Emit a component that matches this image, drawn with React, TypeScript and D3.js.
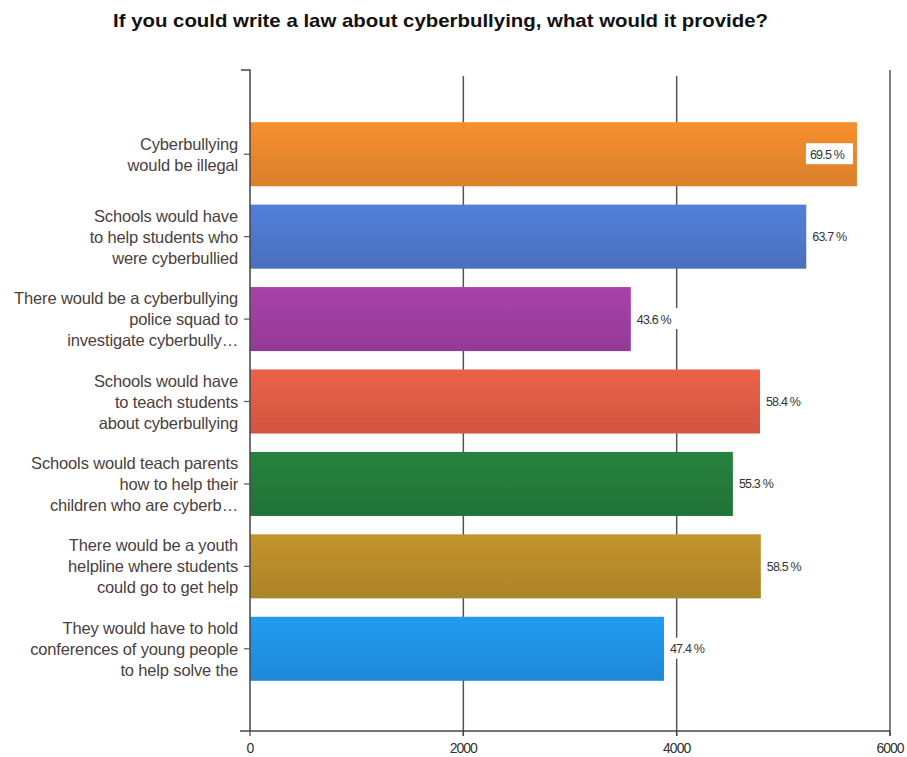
import React from "react";
import * as d3 from "d3";

const categories: string[][] = [
  ["Cyberbullying", "would be illegal"],
  ["Schools would have", "to help students who", "were cyberbullied"],
  ["There would be a cyberbullying", "police squad to", "investigate cyberbully…"],
  ["Schools would have", "to teach students", "about cyberbullying"],
  ["Schools would teach parents", "how to help their", "children who are cyberb…"],
  ["There would be a youth", "helpline where students", "could go to get  help"],
  ["They would have to hold", "conferences of young people", "to help solve the"],
];
const counts: number[] = [5690, 5215, 3570, 4781, 4527, 4789, 3881];
const percents: string[] = ["69.5 %", "63.7 %", "43.6 %", "58.4 %", "55.3 %", "58.5 %", "47.4 %"];
const colors: string[] = ["#e6862c", "#4d76c9", "#9c3d9e", "#dc5a44", "#23793a", "#b58a2a", "#1f91e2"];
const xTicks: number[] = [0, 2000, 4000, 6000];
const title = "If you could write a law about cyberbullying, what would it provide?";

export default function App() {
  const W = 907, H = 757;
  const x = d3.scaleLinear().domain([0, 6000]).range([250, 890]);
  const y = d3.scaleBand<number>().domain(d3.range(categories.length)).range([113, 690]).paddingInner(0.223).paddingOuter(0.1115);
  const top = 70, bottom = 731;
  const font = "'Liberation Sans', Arial, sans-serif";
  return (
    <svg width={W} height={H} style={{ position: "absolute", left: 0, top: 0, background: "#fff" }} fontFamily={font}>
      <defs>
        {colors.map((c, i) => (
          <linearGradient key={i} id={`g${i}`} x1="0" y1="0" x2="0" y2="1">
            <stop offset="0" stopColor={d3.color(c)!.brighter(0.2).toString()} />
            <stop offset="1" stopColor={d3.color(c)!.darker(0.15).toString()} />
          </linearGradient>
        ))}
      </defs>
      <text x={113} y={27} fontWeight="bold" fontSize={18.5} fill="#111" textLength={655} lengthAdjust="spacingAndGlyphs">{title}</text>
      {/* gridlines */}
      {xTicks.slice(1).map((t) => (
        <line key={t} x1={x(t)} x2={x(t)} y1={t === 6000 ? top : top + 6} y2={bottom + 5} stroke="#555" strokeWidth={1.5} />
      ))}
      {/* bars */}
      {counts.map((v, i) => (
        <rect key={i} x={x(0)} y={y(i)!} width={x(v) - x(0)} height={y.bandwidth()} fill={`url(#g${i})`} />
      ))}
      {/* axes */}
      <path d={`M${x(0) - 9},${top}H${x(0)}V${bottom}`} fill="none" stroke="#444" strokeWidth={1.5} />
      <line x1={x(0) - 10} x2={x(6000)} y1={bottom} y2={bottom} stroke="#444" strokeWidth={1.5} />
      {xTicks.map((t) => (
        <g key={t}>
          <line x1={x(t)} x2={x(t)} y1={bottom} y2={bottom + 5} stroke="#444" strokeWidth={1.2} />
          <text x={x(t)} y={753} textAnchor="middle" fontSize={14} fill="#333" style={{ letterSpacing: "-1px" }}>{t}</text>
        </g>
      ))}
      {/* category labels */}
      {categories.map((lines, i) => {
        const cy = y(i)! + y.bandwidth() / 2;
        const lh = 21;
        const start = cy - ((lines.length - 1) * lh) / 2;
        return (
          <g key={i}>
            <line x1={x(0) - 6} x2={x(0)} y1={cy} y2={cy} stroke="#555" strokeWidth={1.2} />
            {lines.map((l, j) => (
              <text key={j} x={238} y={start + j * lh + 6} textAnchor="end" fontSize={16.5} fill="#4a4040" style={{ letterSpacing: "-0.15px" }}>{l}</text>
            ))}
          </g>
        );
      })}
      {/* value labels */}
      {counts.map((v, i) => {
        const cy = y(i)! + y.bandwidth() / 2;
        const inside = x(v) + 50 > x(6000);
        const lx = inside ? x(v) - 51 : x(v) + 2;
        return (
          <g key={i}>
            <rect x={lx} y={cy - 11} width={47} height={21} fill="#fff" />
            <text x={lx + 4} y={cy + 4.5} fontSize={12.5} fill="#333" style={{ letterSpacing: "-0.8px" }}>{percents[i]}</text>
          </g>
        );
      })}
    </svg>
  );
}
